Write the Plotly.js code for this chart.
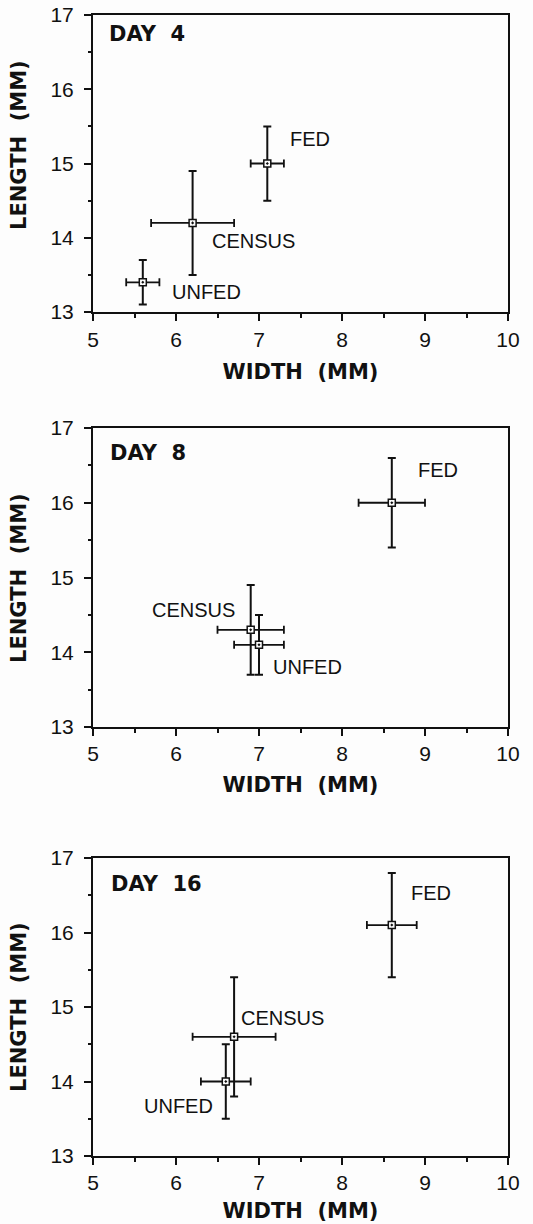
<!DOCTYPE html>
<html>
<head>
<meta charset="utf-8">
<script src="https://cdn.plot.ly/plotly-3.0.1.min.js"></script>
<style>html,body{margin:0;padding:0;background:#fdfdfd;}</style>
</head>
<body>
<div id="chart" style="width:533px;height:1224px;"></div>
<script>
// ---- data ----
const groups = ['UNFED', 'CENSUS', 'FED'];
const days = ['DAY\u00A0\u00A04', 'DAY\u00A0\u00A08', 'DAY\u00A0\u00A016'];

const day4Width = [5.6, 6.2, 7.1];
const day4WidthSD = [0.2, 0.5, 0.2];
const day4Length = [13.4, 14.2, 15.0];
const day4LengthSD = [0.3, 0.7, 0.5];

const day8Width = [7.0, 6.9, 8.6];
const day8WidthSD = [0.3, 0.4, 0.4];
const day8Length = [14.1, 14.3, 16.0];
const day8LengthSD = [0.4, 0.6, 0.6];

const day16Width = [6.6, 6.7, 8.6];
const day16WidthSD = [0.3, 0.5, 0.3];
const day16Length = [14.0, 14.6, 16.1];
const day16LengthSD = [0.5, 0.8, 0.7];

const xTickVals = [5, 6, 7, 8, 9, 10];
const yTickVals = [13, 14, 15, 16, 17];

// ---- styling / layout ----
const panels = [
  {w: day4Width, ws: day4WidthSD, l: day4Length, ls: day4LengthSD},
  {w: day8Width, ws: day8WidthSD, l: day8Length, ls: day8LengthSD},
  {w: day16Width, ws: day16WidthSD, l: day16Length, ls: day16LengthSD}
];
// label offsets (px) per panel for UNFED, CENSUS, FED
const labelStyle = [
  [{xs: 27, ys: -10, xa: 'left'}, {xs: 17, ys: -18, xa: 'left'}, {xs: 21, ys: 24, xa: 'left'}],
  [{xs: 12, ys: -22, xa: 'left'}, {xs: -14, ys: 20, xa: 'right'}, {xs: 24, ys: 33, xa: 'left'}],
  [{xs: -11, ys: -24, xa: 'right'}, {xs: 5, ys: 19, xa: 'left'}, {xs: 17, ys: 32, xa: 'left'}]
];
const H = 1224, W = 533;
const yDomains = [
  [1 - 312 / H, 1 - 15 / H],
  [1 - 727 / H, 1 - 428 / H],
  [1 - 1156 / H, 1 - 858 / H]
];
const xDomain = [93 / W, 508 / W];
const yTitleCenters = [145, 578, 1007];
const dayLabelPos = [[0.034, 0.983], [0.036, 0.962], [0.039, 0.961]];
const tickStandoff = [1, 0, 0];
const titleStandoff = [14, 13, 10];

const tickFont = {family: 'Liberation Sans, Arial, sans-serif', size: 21, color: '#111'};
const boldFont = {family: 'DejaVu Sans, sans-serif', size: 21, color: '#111', weight: 'bold'};
const labelFont = {family: 'Liberation Sans, Arial, sans-serif', size: 20, color: '#111'};

const traces = [];
const annotations = [];
const layout = {
  width: W, height: H,
  margin: {l: 0, r: 0, t: 0, b: 0},
  paper_bgcolor: '#fdfdfd',
  plot_bgcolor: '#fdfdfd',
  showlegend: false,
  annotations: annotations
};

panels.forEach((p, i) => {
  const sfx = i === 0 ? '' : String(i + 1);
  const xa = 'x' + sfx, ya = 'y' + sfx;
  traces.push({
    type: 'scatter', mode: 'markers',
    x: p.w, y: p.l,
    xaxis: xa, yaxis: ya,
    text: groups,
    marker: {symbol: 'square-dot', size: 7, color: '#fdfdfd', line: {color: '#111', width: 1.5}},
    error_x: {type: 'data', array: p.ws, visible: true, color: '#111', thickness: 1.8, width: 4},
    error_y: {type: 'data', array: p.ls, visible: true, color: '#111', thickness: 2, width: 4},
    hoverinfo: 'text'
  });
  layout['xaxis' + sfx] = {
    domain: xDomain, anchor: ya, range: [5, 10],
    tickvals: xTickVals, ticks: 'outside', ticklen: 7, tickwidth: 2, tickcolor: '#111',
    minor: {dtick: 0.5, tick0: 5, ticks: 'outside', ticklen: 4, tickwidth: 2, tickcolor: '#111'},
    showline: true, linewidth: 2, linecolor: '#111', mirror: true,
    showgrid: false, zeroline: false,
    tickfont: tickFont, ticklabelstandoff: tickStandoff[i],
    title: {text: 'WIDTH\u00A0\u00A0(MM)', font: boldFont, standoff: titleStandoff[i]}
  };
  layout['yaxis' + sfx] = {
    domain: yDomains[i], anchor: xa, range: [13, 17],
    tickvals: yTickVals, ticks: 'outside', ticklen: 7, tickwidth: 2, tickcolor: '#111',
    minor: {dtick: 0.5, tick0: 13, ticks: 'outside', ticklen: 3, tickwidth: 2, tickcolor: '#111'},
    showline: true, linewidth: 2, linecolor: '#111', mirror: true,
    showgrid: false, zeroline: false,
    tickfont: tickFont, ticklabelstandoff: 6
  };
  // y-axis title as rotated annotation
  annotations.push({
    xref: 'paper', yref: 'paper', x: 19 / W, y: 1 - yTitleCenters[i] / H,
    xanchor: 'center', yanchor: 'middle', textangle: -90, showarrow: false,
    text: 'LENGTH\u00A0\u00A0(MM)', font: boldFont
  });
  // day label
  annotations.push({
    xref: xa + ' domain', yref: ya + ' domain',
    x: dayLabelPos[i][0], y: dayLabelPos[i][1], xanchor: 'left', yanchor: 'top',
    showarrow: false, text: days[i], font: boldFont
  });
  // group labels
  groups.forEach((g, k) => {
    const s = labelStyle[i][k];
    annotations.push({
      xref: xa, yref: ya, x: p.w[k], y: p.l[k],
      xanchor: s.xa, yanchor: 'middle', xshift: s.xs, yshift: s.ys,
      showarrow: false, text: g, font: labelFont
    });
  });
});

Plotly.newPlot('chart', traces, layout, {displayModeBar: false, staticPlot: true});
</script>
</body>
</html>
